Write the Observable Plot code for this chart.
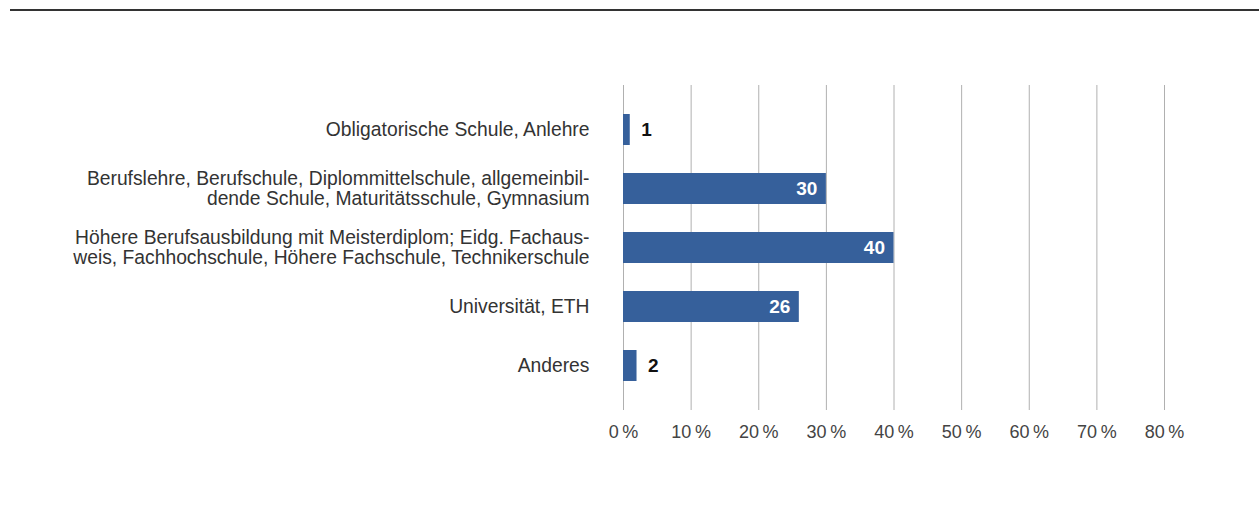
<!DOCTYPE html>
<html>
<head>
<meta charset="utf-8">
<script src="https://cdn.jsdelivr.net/npm/d3@7"></script>
<script src="https://cdn.jsdelivr.net/npm/@observablehq/plot@0.6"></script>
<style>
  html, body { margin: 0; padding: 0; background: #fff; }
  #wrap { position: relative; width: 1259px; height: 508px; }
  #topline { position: absolute; left: 10px; top: 9px; width: 1249px; height: 2px; background: #333; }
  #chart { position: absolute; left: 0; top: 0; }
</style>
</head>
<body>
<div id="wrap">
  <div id="chart"></div>
  <div id="topline"></div>
</div>
<script>
const categories = [
  "Obligatorische Schule, Anlehre",
  "Berufslehre, Berufschule, Diplommittelschule, allgemeinbil-\ndende Schule, Maturitätsschule, Gymnasium",
  "Höhere Berufsausbildung mit Meisterdiplom; Eidg. Fachaus-\nweis, Fachhochschule, Höhere Fachschule, Technikerschule",
  "Universität, ETH",
  "Anderes"
];
const values = [1, 30, 40, 26, 2];
const xTicks = [0, 10, 20, 30, 40, 50, 60, 70, 80];

const data = categories.map((c, i) => ({category: c, value: values[i]}));
const inside = data.filter(d => d.value >= 10);
const outside = data.filter(d => d.value < 10);

const font = "'Liberation Sans', Arial, sans-serif";

const chart = Plot.plot({
  width: 1259,
  height: 508,
  marginTop: 85,
  marginBottom: 98,
  marginLeft: 623,
  marginRight: 95,
  style: {fontFamily: font, fontSize: "19px", color: "#333", background: "transparent"},
  x: {domain: [0, 80], axis: null},
  y: {domain: categories, axis: null, paddingInner: 0.48, paddingOuter: 0.45},
  marks: [
    Plot.ruleX(xTicks, {x: d => d, stroke: "#b0b0b0", strokeWidth: 1}),
    Plot.barX(data, {y: "category", x: "value", fill: "#36609b"}),
    Plot.text(inside, {y: "category", x: "value", text: d => String(d.value), textAnchor: "end", dx: -9, fill: "#fff", fontWeight: "bold", fontSize: 19}),
    Plot.text(outside, {y: "category", x: "value", text: d => String(d.value), textAnchor: "start", dx: 11, fill: "#111", fontWeight: "bold", fontSize: 19}),
    Plot.text(data, {y: "category", text: "category", frameAnchor: "left", textAnchor: "end", dx: -34, fill: "#333", fontSize: 19.3, lineHeight: 1.03}),
    Plot.text(xTicks, {x: d => d, text: d => d + "\u2009%", frameAnchor: "bottom", dy: 27, fill: "#444", fontSize: 18})
  ]
});
document.getElementById("chart").appendChild(chart);
</script>
</body>
</html>
